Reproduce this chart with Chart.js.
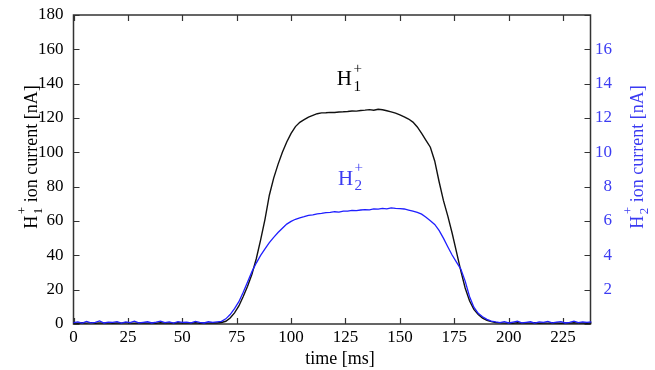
<!DOCTYPE html>
<html><head><meta charset="utf-8">
<script src="https://cdn.jsdelivr.net/npm/chart.js@4.4.0/dist/chart.umd.min.js"></script>
<style>html,body{margin:0;padding:0;background:#fff}#wrap{width:655px;height:370px}</style>
</head><body><div id="wrap"><canvas id="c" width="655" height="370"></canvas></div>
<script>
const timeMs = [0,2,4,6,8,10,12,14,16,18,20,22,24,26,28,30,32,34,36,38,40,42,44,46,48,50,52,54,56,58,60,62,64,66,68,70,72,74,76,78,80,82,84,86,88,90,92,94,96,98,100,102,104,106,108,110,112,114,116,118,120,122,124,126,128,130,132,134,136,138,140,142,144,146,148,150,152,154,156,158,160,162,164,166,168,170,172,174,176,178,180,182,184,186,188,190,192,194,196,198,200,202,204,206,208,210,212,214,216,218,220,222,224,226,228,230,232,234,236,238];
const h1Current = [0.6,0.4,0.7,0.5,0.8,0.4,0.6,0.5,0.7,0.4,0.6,0.5,0.8,0.5,0.4,0.6,0.7,0.5,0.6,0.4,0.7,0.5,0.6,0.4,0.7,0.5,0.6,0.5,0.7,0.4,0.6,0.5,0.7,0.6,
 0.9,1.6,3.5,6.5,10.5,16,22,29,38,49,61,75,85,93,100,106,111,115,117.5,119,120.5,121.5,122.5,123,123.1,123.3,123.2,123.5,123.6,123.8,124.1,124,124.4,124.6,124.9,124.5,125.1,124.8,124.2,123.6,122.8,121.8,120.6,119.4,117.6,114.8,111,107,103,95,83,72,63,53,42,31,21,13.5,8.5,5.5,3.4,2.2,1.4,0.9,0.7,0.5,0.6,
 0.4,0.7,0.5,0.6,0.5,0.7,0.4,0.6,0.5,0.7,0.6,0.4,0.6,0.5,0.7,0.5,0.6,0.4,0.6];
const h2Current = [0.08,0.12,0.05,0.15,0.07,0.1,0.18,0.06,0.11,0.09,0.14,0.05,0.12,0.08,0.16,0.07,0.1,0.13,0.06,0.11,0.17,0.08,0.12,0.05,0.14,0.09,0.11,0.07,0.15,0.1,0.06,0.13,0.09,0.12,
 0.15,0.3,0.55,0.9,1.3,1.85,2.45,3.05,3.55,4.0,4.38,4.74,5.05,5.33,5.58,5.82,5.98,6.1,6.18,6.25,6.33,6.36,6.42,6.44,6.49,6.5,6.54,6.52,6.58,6.57,6.62,6.6,6.64,6.66,6.65,6.7,6.69,6.73,6.71,6.76,6.73,6.72,6.7,6.64,6.58,6.5,6.4,6.22,6.02,5.8,5.45,5.0,4.5,4.02,3.6,3.2,2.5,1.6,0.98,0.62,0.42,0.27,0.17,0.12,
 0.08,0.14,0.06,0.11,0.16,0.07,0.1,0.13,0.05,0.12,0.09,0.15,0.07,0.11,0.14,0.06,0.1,0.17,0.08,0.12,0.09,0.13];
const xTicks = [0,25,50,75,100,125,150,175,200,225];
const yLeftTicks = [0,20,40,60,80,100,120,140,160,180];
const yRightTicks = [2,4,6,8,10,12,14,16];
const xTitle = 'time [ms]';
const leftTitle = {base:'H', sub:'1', sup:'+', rest:' ion current [nA]'};
const rightTitle = {base:'H', sub:'2', sup:'+', rest:' ion current [nA]'};
const label1 = {base:'H', sub:'1', sup:'+', rest:''};
const label2 = {base:'H', sub:'2', sup:'+', rest:''};

const SERIF = "'Liberation Serif','Times New Roman',serif";
const BLUE_LINE = '#1f1fff';
const BLUE_TEXT = '#3b3bf2';

function chemWidth(ctx, p, size){
  ctx.font = size+'px '+SERIF; const wb = ctx.measureText(p.base).width;
  const ss = size*0.72;
  ctx.font = ss+'px '+SERIF; const ws = Math.max(ctx.measureText(p.sub).width, ctx.measureText(p.sup).width);
  ctx.font = size+'px '+SERIF; const wr = p.rest ? ctx.measureText(p.rest).width : 0;
  return {wb, ws, wr, total: wb+1.5+ws+wr};
}
function drawChem(ctx, x, y, p, size, color){
  const m = chemWidth(ctx, p, size);
  ctx.fillStyle = color; ctx.textAlign='left'; ctx.textBaseline='alphabetic';
  ctx.font = size+'px '+SERIF; ctx.fillText(p.base, x, y);
  const ss = size*0.72; ctx.font = ss+'px '+SERIF;
  ctx.fillText(p.sup, x+m.wb+1.5, y-size*0.6);
  ctx.fillText(p.sub, x+m.wb+1.5, y+size*0.25);
  if (p.rest){ ctx.font = size+'px '+SERIF; ctx.fillText(p.rest, x+m.wb+1.5+m.ws, y); }
  return m;
}

const framePlugin = {
  id:'frame',
  beforeDatasetsDraw(chart){
    const {ctx, chartArea:a, scales} = chart;
    const xs = scales.x, ys = scales.y;
    ctx.save();
    ctx.strokeStyle = '#333'; ctx.lineWidth = 1.5;
    ctx.strokeRect(a.left, a.top, a.right-a.left, a.bottom-a.top);
    ctx.lineWidth = 1.2; ctx.beginPath();
    xTicks.forEach(v=>{ const p = Math.round(xs.getPixelForValue(v))+0.5;
      ctx.moveTo(p,a.bottom); ctx.lineTo(p,a.bottom-6); ctx.moveTo(p,a.top); ctx.lineTo(p,a.top+6); });
    yLeftTicks.forEach(v=>{ const p = Math.round(ys.getPixelForValue(v))+0.5;
      ctx.moveTo(a.left,p); ctx.lineTo(a.left+6,p); ctx.moveTo(a.right,p); ctx.lineTo(a.right-6,p); });
    ctx.stroke();
    ctx.restore();
  },
  afterDatasetsDraw(chart){
    const {ctx, chartArea:a, scales} = chart;
    const xs = scales.x, ys = scales.y, y2 = scales.y2;
    ctx.save();
    ctx.font = '18px '+SERIF; ctx.fillStyle='#000'; ctx.textAlign='center'; ctx.textBaseline='alphabetic';
    ctx.fillText(xTitle, 340, 364);
    let m = chemWidth(ctx, leftTitle, 18);
    ctx.save(); ctx.translate(37, 157); ctx.rotate(-Math.PI/2);
    drawChem(ctx, -m.total/2, 0, leftTitle, 18, '#000'); ctx.restore();
    m = chemWidth(ctx, rightTitle, 18);
    ctx.save(); ctx.translate(643, 157); ctx.rotate(-Math.PI/2);
    drawChem(ctx, -m.total/2, 0, rightTitle, 18, BLUE_TEXT); ctx.restore();
    drawChem(ctx, xs.getPixelForValue(121), ys.getPixelForValue(139), label1, 21, '#000');
    drawChem(ctx, xs.getPixelForValue(121.5), y2.getPixelForValue(8.1), label2, 21, BLUE_TEXT);
    ctx.restore();
  }
};

const tickFont = {family: SERIF, size: 17};
new Chart(document.getElementById('c'), {
  type:'line',
  data:{ datasets:[
    {label:'H2+', data: timeMs.map((t,i)=>({x:t, y:h2Current[i]})), yAxisID:'y2', borderColor:BLUE_LINE, borderWidth:1.3, pointRadius:0, tension:0, clip:3, order:0},
    {label:'H1+', data: timeMs.map((t,i)=>({x:t, y:h1Current[i]})), yAxisID:'y', borderColor:'#111', borderWidth:1.4, pointRadius:0, tension:0, clip:3, order:1}
  ]},
  options:{
    responsive:false, animation:false, devicePixelRatio:1,
    layout:{padding:{top:15,left:0,right:43,bottom:0}},
    plugins:{legend:{display:false}, tooltip:{enabled:false}},
    scales:{
      x:{type:'linear', min:0, max:237.6,
        afterBuildTicks:s=>{ s.ticks = xTicks.map(v=>({value:v})); },
        afterFit:s=>{ s.height = 46; s.paddingLeft = 0; s.paddingRight = 0; },
        grid:{display:false, drawTicks:false}, border:{display:false},
        ticks:{font:tickFont, color:'#000', padding:3, maxRotation:0, autoSkip:false}},
      y:{type:'linear', position:'left', min:0, max:180,
        afterBuildTicks:s=>{ s.ticks = yLeftTicks.map(v=>({value:v})); },
        afterFit:s=>{ s.width = 73.5; s.paddingTop = 0; s.paddingBottom = 0; },
        grid:{display:false, drawTicks:false}, border:{display:false},
        ticks:{font:tickFont, color:'#000', padding:10}},
      y2:{type:'linear', position:'right', min:0, max:18,
        afterBuildTicks:s=>{ s.ticks = yRightTicks.map(v=>({value:v})); },
        afterFit:s=>{ s.width = 21.5; s.paddingTop = 0; s.paddingBottom = 0; },
        grid:{display:false, drawTicks:false}, border:{display:false},
        ticks:{font:tickFont, color:BLUE_TEXT, padding:4, crossAlign:'far'}}
    }
  },
  plugins:[framePlugin]
});
</script></body></html>
